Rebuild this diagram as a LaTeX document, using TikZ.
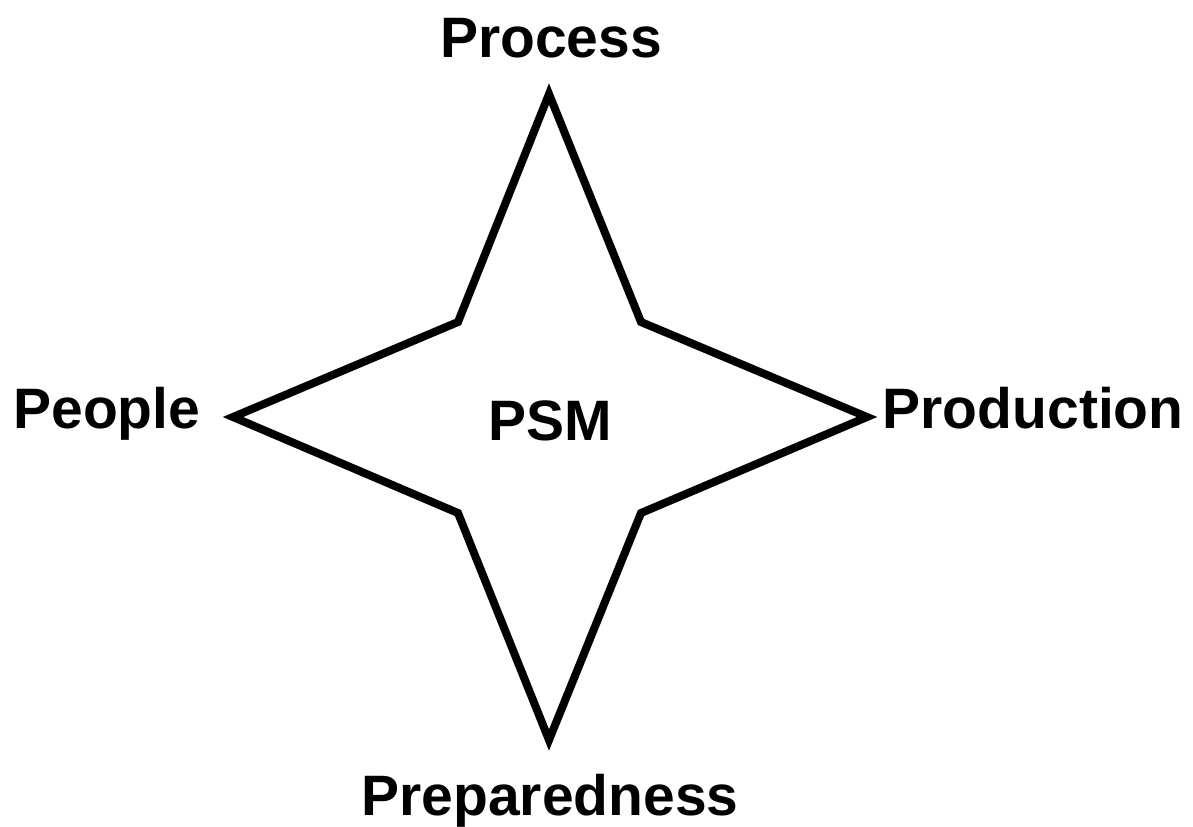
\documentclass[tikz,border=0pt]{standalone}
\usepackage{fontspec}
\setmainfont{Liberation Sans}
\begin{document}
\begin{tikzpicture}[x=0.5pt,y=-0.5pt,
  lbl/.style={font=\bfseries\fontsize{28.5}{32}\selectfont, inner sep=0pt, anchor=base},
  star/.style={draw=black, line width=4pt, line join=miter, fill=white}]
\useasboundingbox (0,0) rectangle (1193,826);
\coordinate (T) at (549,94);
\coordinate (B) at (549,740);
\coordinate (L) at (233,417);
\coordinate (R) at (867,417);
\coordinate (TL) at (458,322);
\coordinate (TR) at (641,322);
\coordinate (BL) at (458,513);
\coordinate (BR) at (641,513);
\draw[star] (T) -- (TR) -- (R) -- (BR) -- (B) -- (BL) -- (L) -- (TL) -- cycle;
\node[lbl] (process) at (551,57) {Process};
\node[lbl, anchor=base west] (people) at (13,428) {People};
\node[lbl, anchor=base east] (production) at (1184,428) {Production};
\node[lbl] (prep) at (550,815) {Preparedness};
\node[lbl] (psm) at (550,440) {PSM};
\end{tikzpicture}
\end{document}
